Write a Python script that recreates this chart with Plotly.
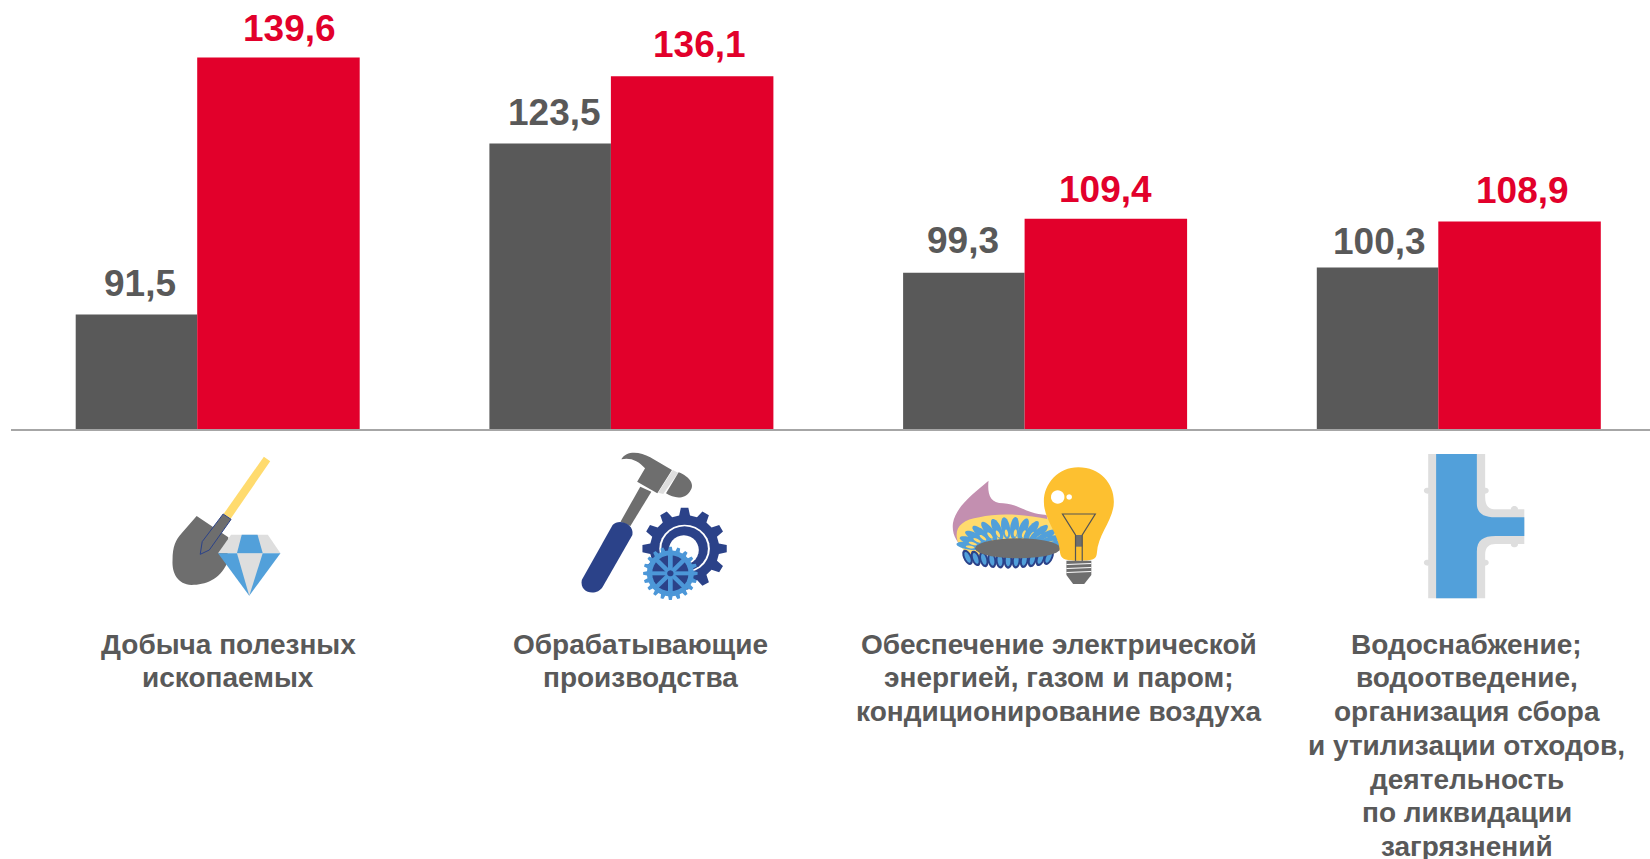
import math
import re
import plotly.graph_objects as go

W, H = 1650, 859

# ---- data ----
categories = [
    "Добыча полезных<br>ископаемых",
    "Обрабатывающие<br>производства",
    "Обеспечение электрической<br>энергией, газом и паром;<br>кондиционирование воздуха",
    "Водоснабжение;<br>водоотведение,<br>организация сбора<br>и утилизации отходов,<br>деятельность<br>по ликвидации<br>загрязнений",
]
positions = [0, 1, 2, 3]
gray_values = [91.5, 123.5, 99.3, 100.3]
red_values = [139.6, 136.1, 109.4, 108.9]

# ---- layout constants (not data) ----
GRAY, RED, AXIS = "#595959", "#E2002B", "#A6A6A6"
FONT = "Liberation Sans"
LEFT, BASE_Y = 10.5, 429.0
PERIOD, CENTER0 = 413.7, 228.4
PX_PER_UNIT = 5.343
Y_MIN = 70.07
label_centers = [228.4, 640.8, 1058.6, 1466.9]
gray_shift = [3.7, 4.6, -1, 1.5]
red_shift = [11.4, 7, 0, 3]
gray_lift = [9, 9, 10, 3]
red_lift = [7, 9, 7, 9]
FIRST_LINE_Y, LINE_STEP = 644.0, 33.75

fig = go.Figure()
fig.add_bar(x=positions, y=gray_values, base=0, width=121.5 / PERIOD, offset=-152.7 / PERIOD,
            marker=dict(color=GRAY, line_width=0), name="gray", hoverinfo="y")
fig.add_bar(x=positions, y=red_values, base=0, width=162.5 / PERIOD, offset=-31.2 / PERIOD,
            marker=dict(color=RED, line_width=0), name="red", hoverinfo="y")

annotations = []
def fmt(v):
    return "<b>" + f"{v:.1f}".replace(".", ",") + "</b>"

for i, (g, r) in enumerate(zip(gray_values, red_values)):
    annotations.append(dict(x=positions[i] - 92 / PERIOD, y=g, xref="x", yref="y", text=fmt(g), showarrow=False,
                            xshift=gray_shift[i], yanchor="bottom", yshift=gray_lift[i],
                            font=dict(family=FONT, size=37, color=GRAY)))
    annotations.append(dict(x=positions[i] + 50 / PERIOD, y=r, xref="x", yref="y", text=fmt(r), showarrow=False,
                            xshift=red_shift[i], yanchor="bottom", yshift=red_lift[i],
                            font=dict(family=FONT, size=37, color=RED)))
    for k, line in enumerate(categories[i].split("<br>")):
        annotations.append(dict(x=label_centers[i] / W, y=1 - (FIRST_LINE_Y + k * LINE_STEP) / H,
                                xref="paper", yref="paper", text="<b>" + line + "</b>", showarrow=False,
                                xanchor="center", yanchor="middle", align="center",
                                font=dict(family=FONT, size=28, color=GRAY)))

# ---- pictograms as vector shapes, drawn in crop coordinates ----
shapes = []
C_GRAY, C_LIGHT, C_BLUE, C_NAVY, C_YEL = "#6E6E6E", "#DEDEDE", "#52A0DA", "#2B4289", "#FFDB6E"
SX, SY = 1568 / 620, 3.0

def to_paper(d, ox, oy):
    res, buf = [], []
    for tok in re.findall(r"-?\d+\.?\d*|[MLCZ]", d):
        if tok in "MLCZ":
            res.append(tok)
        else:
            buf.append(float(tok))
            if len(buf) == 2:
                res.append(f"{(ox + buf[0] / SX) / W:.5f},{1 - (oy + buf[1] / SY) / H:.5f}")
                buf = []
    return " ".join(res)

def add(d, fill, ox, oy, line=None, lw=1):
    shapes.append(dict(type="path", xref="paper", yref="paper", path=to_paper(d, ox, oy), layer="above",
                       fillcolor=fill if fill else "rgba(0,0,0,0)",
                       line=dict(color=line, width=lw) if line else dict(width=0)))

def poly(pts):
    return "M" + " L".join(f"{x:.1f} {y:.1f}" for x, y in pts) + " Z"

def ellipse(cx, cy, rx, ry, rot=0.0, n=28):
    c, s = math.cos(rot), math.sin(rot)
    pts = []
    for k in range(n):
        a = 2 * math.pi * k / n
        ex, ey = rx * math.cos(a), ry * math.sin(a)
        pts.append((cx + ex * c - ey * s, cy + ex * s + ey * c))
    return poly(pts)

def gear(cx, cy, rx, ry, teeth, depth=0.82):
    pts = []
    for k in range(teeth):
        a0 = 2 * math.pi * k / teeth
        st = 2 * math.pi / teeth
        for frac, rad in [(-0.30, depth), (-0.17, 1), (0.17, 1), (0.30, depth)]:
            a = a0 + frac * st
            pts.append((cx + rx * rad * math.cos(a), cy + ry * rad * math.sin(a)))
    return poly(pts)

def bar_line(x0, y0, x1, y1, w):
    dx, dy = x1 - x0, y1 - y0
    l = math.hypot(dx, dy)
    nx, ny = -dy / l * w / 2, dx / l * w / 2
    return poly([(x0 + nx, y0 + ny), (x1 + nx, y1 + ny), (x1 - nx, y1 - ny), (x0 - nx, y0 - ny)])

# shovel and diamond
O1 = (150, 440)
add(poly([(288, 50), (304, 64), (204, 236), (186, 222)]), C_YEL, *O1)
add("M118 228 L198 292 L195 370 C175 420 140 435 105 435 C70 433 55 400 57 360 C57 320 65 300 80 280 Z", C_GRAY, *O1)
add(poly([(185, 222), (205, 238), (150, 330), (127, 343), (132, 305)]), C_GRAY, *O1, line=C_NAVY, lw=1)
add(poly([(205, 284), (298, 284), (330, 340), (172, 340)]), C_LIGHT, *O1)
add(poly([(232, 284), (272, 284), (285, 339), (220, 339)]), C_BLUE, *O1)
add(poly([(172, 340), (330, 340), (251, 467)]), C_BLUE, *O1)
add(poly([(220, 340), (285, 340), (251, 467)]), C_LIGHT, *O1)

# hammer and gears
add("M1192 58 C1205 30 1240 35 1265 52 L1320 90 L1283 160 L1232 125 L1252 85 C1235 62 1215 52 1192 58 Z", C_GRAY, *O1)
add(poly([(1322, 90), (1336, 98), (1298, 162), (1285, 158)]), C_LIGHT, *O1)
add("M1337 97 C1365 110 1380 135 1365 155 C1350 180 1325 175 1305 160 Z", C_GRAY, *O1)
add(poly([(1240, 140), (1268, 155), (1215, 258), (1190, 245)]), C_GRAY, *O1)
add("M1170 255 C1185 235 1225 250 1220 285 L1145 440 C1130 470 1085 460 1092 420 Z", C_NAVY, *O1)
add(gear(1352, 326, 107, 123, 12), C_NAVY, *O1)
add(ellipse(1352, 326, 64, 72), "#FFFFFF", *O1)
add(ellipse(1352, 326, 59, 67), C_NAVY, *O1)
add(ellipse(1350, 330, 38, 44), "#FFFFFF", *O1)
add(gear(1316, 400, 69, 80, 20, depth=0.86), "#4C97D8", *O1)
add(ellipse(1316, 400, 46, 54), C_NAVY, *O1)
for k in range(8):
    a = k * math.pi / 4
    add(bar_line(1316, 400, 1316 + 50 * math.cos(a), 400 + 58 * math.sin(a), 12), "#4C97D8", *O1)
add(ellipse(1316, 400, 8, 9), C_NAVY, *O1)

# burner and bulb
O2 = (930, 440)
add("M148 122 C145 160 150 190 185 190 C225 192 240 220 295 225 L300 250 L100 340 C65 310 55 280 58 250 C65 200 110 160 148 122 Z",
    "#C38FB0", *O2)
add("M72 310 C58 270 75 240 125 232 C170 218 240 222 300 238 L330 300 L100 355 Z", C_YEL, *O2)
for k in range(11):
    x = 95 + k * 20.5
    y = 352 + 10 * math.sin(math.pi * k / 10)
    add(ellipse(x, y, 11, 24, -0.35 + 0.07 * k), C_NAVY, *O2)
    add(ellipse(x, y, 6, 17, -0.35 + 0.07 * k), C_BLUE, *O2)
for k in range(14):
    t = math.radians(168 - k * 11.8)
    x, y = 205 + 108 * math.cos(t), 332 - 68 * math.sin(t)
    rot = math.pi / 2 + math.atan2(math.cos(t) * 1.1, math.sin(t) * 1.0)
    add(ellipse(x, y, 11, 33, rot - math.pi / 2), C_BLUE, *O2)
    add(ellipse(x + 2, y + 15 * math.sin(t), 4, 11, rot - math.pi / 2), C_YEL, *O2)
add(ellipse(222, 325, 108, 30), C_GRAY, *O2)
add("M375 82 C430 82 465 130 465 185 C465 240 425 280 422 340 C420 360 410 362 375 362 C335 362 330 355 328 330 C325 280 288 240 288 185 C288 130 325 82 375 82 Z",
    "#FDC030", *O2)
add(ellipse(323, 171, 17, 20), "#FFFFFF", *O2)
add(ellipse(352, 171, 7, 8), "#FFFFFF", *O2)
add(poly([(368, 285), (385, 285), (385, 320), (368, 320)]), C_GRAY, *O2)
add("M368 365 L368 285 L335 222 L418 222 L385 285 L385 365", None, *O2, line="#555555", lw=1.2)
add(poly([(345, 362), (408, 362), (408, 405), (390, 432), (362, 432), (345, 405)]), C_GRAY, *O2)
for yy in (372, 384, 396):
    add(poly([(345, yy), (408, yy - 3), (408, yy), (345, yy + 3)]), "#FFFFFF", *O2)

# pipe
for bx, by in [(1258, 152), (1258, 368), (1404, 152), (1404, 368), (1478, 207), (1478, 313)]:
    add(ellipse(bx, by, 9, 9), C_LIGHT, *O2)
add("M1260 42 L1404 42 L1404 170 C1404 200 1415 208 1430 208 L1503 208 L1503 312 L1430 312 C1415 312 1404 320 1404 345 L1404 475 L1260 475 Z",
    C_LIGHT, *O2)
add("M1280 42 L1383 42 L1383 190 C1383 220 1400 232 1430 232 L1503 232 L1503 288 L1430 288 C1400 288 1383 300 1383 335 L1383 475 L1280 475 Z",
    C_BLUE, *O2)

fig.update_layout(
    width=W, height=H, autosize=False,
    margin=dict(l=0, r=0, t=0, b=0),
    paper_bgcolor="white", plot_bgcolor="white",
    barmode="overlay", showlegend=False,
    font=dict(family=FONT),
    xaxis=dict(domain=[LEFT / W, 1], range=[(LEFT - CENTER0) / PERIOD, (W - CENTER0) / PERIOD],
               showgrid=False, zeroline=False, showticklabels=False, ticks="",
               showline=True, linecolor=AXIS, linewidth=2),
    yaxis=dict(domain=[1 - BASE_Y / H, 1], range=[Y_MIN, Y_MIN + BASE_Y / PX_PER_UNIT],
               showgrid=False, zeroline=False, showticklabels=False, ticks="", showline=False),
    annotations=annotations,
    shapes=shapes,
)

fig.write_html("out.html", config={"displayModeBar": False},
               post_script="document.body.style.margin='0';document.documentElement.style.overflow='hidden';")
